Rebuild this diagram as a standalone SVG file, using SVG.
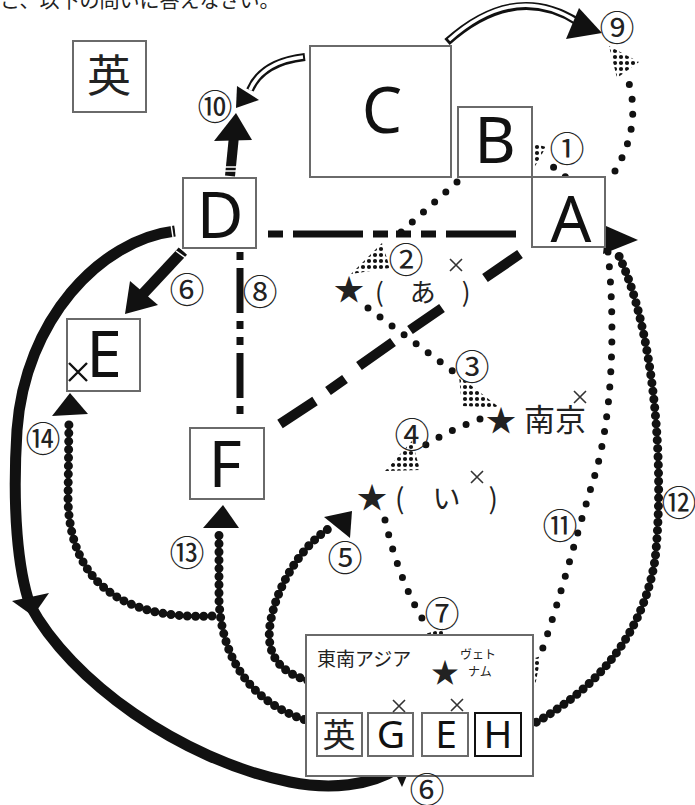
<svg xmlns="http://www.w3.org/2000/svg" width="695" height="805" viewBox="0 0 695 805">
<style>
.box{fill:#fff;stroke:#6a6a6a;stroke-width:2}
.let{font-family:"Noto Sans","DejaVu Sans",sans-serif;font-size:64px;fill:#111;text-anchor:middle}
.sm{font-family:"Noto Sans","DejaVu Sans",sans-serif;font-size:39px;fill:#111;text-anchor:middle}
.jp{font-family:"Noto Sans CJK JP","Noto Sans",sans-serif;fill:#222}
.num{font-family:"Noto Sans CJK JP","Noto Sans",sans-serif;font-size:35px;fill:#222;text-anchor:middle;dominant-baseline:central}
.dot{fill:none;stroke:#111;stroke-width:7;stroke-linecap:round;stroke-dasharray:0 15}
.bead{fill:none;stroke:#111;stroke-width:9;stroke-linecap:round;stroke-dasharray:0 8.2}
.thick{fill:none;stroke:#111;stroke-width:11}
.chain{fill:none;stroke:#111;stroke-width:7}
.x{fill:none;stroke:#333;stroke-width:1.6}
</style>
<defs>
<pattern id="dp" width="6" height="6" patternUnits="userSpaceOnUse"><circle cx="3" cy="3" r="2.1" fill="#111"/></pattern>
</defs>
<text class="jp" x="0" y="8" font-size="20">こ、以下の問いに答えなさい。</text>

<g id="connectors">
<!-- hollow arrows from C -->
<path d="M305 57 Q262 62 250 90" fill="none" stroke="#111" stroke-width="8"/>
<path d="M303 57 Q262 62 250 90" fill="none" stroke="#fff" stroke-width="3.5"/>
<polygon points="236,108 237,86 259,100" fill="#111"/>
<path d="M447 42 Q514 -18 578 22" fill="none" stroke="#111" stroke-width="8"/>
<path d="M449 40 Q514 -18 576 21" fill="none" stroke="#fff" stroke-width="3.5"/>
<polygon points="602,33 579,8 566,39" fill="#111"/>
<!-- D up arrow -->
<line x1="230" y1="176" x2="234" y2="136" stroke="#111" stroke-width="10"/>
<polygon points="236,113 214,141 252,140" fill="#111"/>
<line x1="224" y1="167" x2="238" y2="167" stroke="#fff" stroke-width="1.5"/>
<line x1="224" y1="171" x2="238" y2="171" stroke="#fff" stroke-width="1.5"/>
<!-- D to E arrow -->
<line x1="183" y1="251" x2="141" y2="296" stroke="#111" stroke-width="11"/>
<polygon points="125,314 130,281 158,305" fill="#111"/>
<line x1="176" y1="251" x2="187" y2="259" stroke="#fff" stroke-width="1.5"/>
<line x1="179" y1="247" x2="190" y2="255" stroke="#fff" stroke-width="1.5"/>
<!-- big arc D to G -->
<path class="thick" d="M175 231 C100 240 25 320 17 430 C12 510 18 570 30 605 C70 680 180 760 290 782 C330 790 370 786 398 768"/>
<line x1="171" y1="224" x2="173" y2="237" stroke="#fff" stroke-width="1.5"/>
<line x1="175" y1="224" x2="177" y2="237" stroke="#fff" stroke-width="1.5"/>
<polygon points="12,601 49,593 33,616" fill="#111"/>
<polygon points="415,757 385,752 402,787" fill="#111"/>
<!-- D-A two-dot chain -->
<line class="chain" x1="268" y1="234" x2="520" y2="234" stroke-dasharray="15 10 70 10 15 8 15 10"/>
<!-- D-F two-dot chain -->
<line class="chain" x1="240" y1="252" x2="240" y2="419" stroke-dasharray="8 8 45 8 8 8"/>
<!-- F-A dashed -->
<path d="M280 424 L315 401 M328 391 L345 379 M359 366 L393 342 M410 330 L442 308 M485 278 L520 254" stroke="#111" stroke-width="10" fill="none"/>
<!-- dotted lines -->
<path class="dot" d="M577 186 L547 162"/>
<path class="dot" d="M615 171 Q642 125 628 80"/>
<path class="dot" d="M457 182 L390 242"/>
<path class="dot" d="M368 308 L458 375"/>
<path class="dot" d="M480 419 Q450 430 422 447"/>
<path class="dot" d="M385 520 Q400 585 428 628"/>
<path class="dot" d="M608 252 C616 330 612 420 594 478 S560 600 540 656"/>
<!-- dot clusters -->
<polygon points="519,139 546,147 534,168" fill="url(#dp)"/>
<polygon points="609,46 639,62 617,78" fill="url(#dp)"/>
<polygon points="382,243 351,274 390,268" fill="url(#dp)"/>
<polygon points="459,376 500,408 462,406" fill="url(#dp)"/>
<polygon points="412,441 385,471 420,470" fill="url(#dp)"/>
<polygon points="415,637 445,628 441,660" fill="url(#dp)"/>
<polygon points="520,663 541,656 533,696" fill="url(#dp)"/>
<!-- bead chains -->
<path class="bead" d="M522 730 C580 700 640 650 655 560 C665 470 655 330 618 254"/>
<polygon points="606,226 638,240 603,254" fill="#111"/>
<path class="bead" d="M312 722 C262 708 222 670 219 600 L219 530"/>
<polygon points="223,505 203,528 239,528" fill="#111"/>
<path class="bead" d="M212 616 C120 620 70 580 68 500 L69 418"/>
<polygon points="70,393 52,416 88,414" fill="#111"/>
<path class="bead" d="M332 685 C285 680 265 660 270 625 C275 590 300 545 333 526"/>
<polygon points="352,511 324,517 350,538" fill="#111"/>
</g>

<g id="node-ei"><rect class="box" x="73" y="41" width="73" height="71"/><text class="jp" x="109" y="92" font-size="44" text-anchor="middle">英</text></g>
<g id="node-C"><rect class="box" x="310" y="46" width="141" height="131"/><text class="let" x="382" y="133">C</text></g>
<g id="node-B"><rect class="box" x="458" y="107" width="74" height="70"/><text class="let" x="495" y="163">B</text></g>
<g id="node-A"><rect class="box" x="532" y="177" width="73" height="70"/><text class="let" x="571" y="242">A</text></g>
<g id="node-D"><rect class="box" x="183" y="178" width="73" height="70"/><text class="let" x="220" y="238">D</text></g>
<g id="node-E"><rect class="box" x="67" y="319" width="73" height="72"/><text class="let" x="104" y="377">E</text>
<path d="M69 363 L87 381 M87 363 L69 381" stroke="#111" stroke-width="2.4"/></g>
<g id="node-F"><rect class="box" x="190" y="428" width="74" height="71"/><text class="let" x="225" y="487">F</text></g>

<g id="node-a"><text class="jp" x="349" y="300" font-size="30" text-anchor="middle">★</text>
<text class="jp" x="375" y="302" font-size="26">(　あ　)</text>
<path class="x" d="M450 259 L462 271 M462 259 L450 271"/></g>
<g id="node-nanjing"><text class="jp" x="501" y="431" font-size="30" text-anchor="middle">★</text>
<text class="jp" x="524" y="431" font-size="31" fill="#333">南京</text>
<path class="x" d="M574 391 L586 403 M586 391 L574 403"/></g>
<g id="node-i"><text class="jp" x="372" y="508" font-size="30" text-anchor="middle">★</text>
<text class="jp" x="395" y="509" font-size="28">(　い　)</text>
<path class="x" d="M471 471 L483 483 M483 471 L471 483"/></g>

<g id="node-sea"><rect class="box" x="306" y="635" width="227" height="141"/>
<text class="jp" x="317" y="666" font-size="19">東南アジア</text>
<text class="jp" x="445" y="683" font-size="28" text-anchor="middle">★</text>
<text class="jp" x="460" y="659" font-size="12">ヴェト</text>
<text class="jp" x="468" y="676" font-size="12">ナム</text>
<rect class="box" x="317" y="713" width="45" height="43"/><text class="jp" x="339" y="747" font-size="33" text-anchor="middle">英</text>
<rect class="box" x="368" y="713" width="45" height="43"/><text class="sm" x="391" y="748">G</text>
<rect class="box" x="422" y="713" width="46" height="43"/><text class="sm" x="446" y="748">E</text>
<rect x="475" y="713" width="46" height="43" fill="#fff" stroke="#111" stroke-width="2"/><text class="sm" x="498" y="748">H</text>
<path class="x" d="M393 700 L405 712 M405 700 L393 712"/>
<path class="x" d="M451 699 L463 711 M463 699 L451 711"/>
</g>

<g id="labels">
<text class="num" x="567" y="146">①</text>
<text class="num" x="406" y="257">②</text>
<text class="num" x="472" y="364">③</text>
<text class="num" x="412" y="432">④</text>
<text class="num" x="345" y="555">⑤</text>
<text class="num" x="187" y="287">⑥</text>
<text class="num" x="427" y="787">⑥</text>
<text class="num" x="442" y="611">⑦</text>
<text class="num" x="260" y="289">⑧</text>
<text class="num" x="617" y="25">⑨</text>
<text class="num" x="215" y="104">⑩</text>
<text class="num" x="560" y="523">⑪</text>
<text class="num" x="679" y="500">⑫</text>
<text class="num" x="187" y="550">⑬</text>
<text class="num" x="43" y="436">⑭</text>
</g>
</svg>
